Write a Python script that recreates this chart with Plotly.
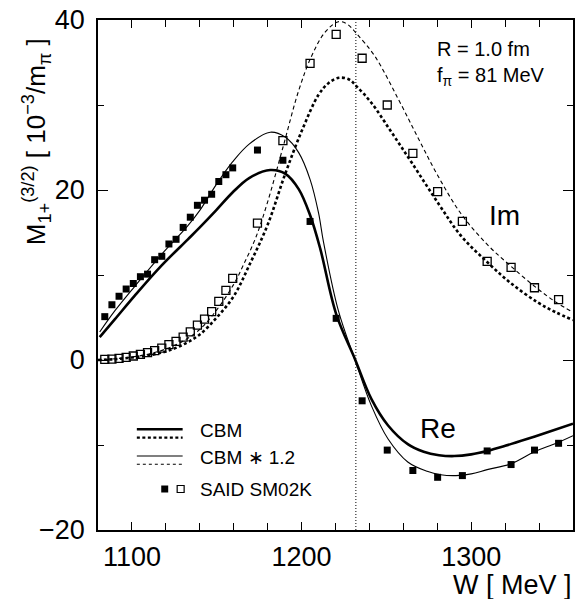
import plotly.graph_objects as go

# ---------------- data ----------------
said_w = [1084.0, 1088.2, 1092.4, 1096.6, 1100.8, 1105.0, 1109.2, 1113.4, 1117.6, 1121.8,
          1126.0, 1130.2, 1134.4, 1138.6, 1142.8, 1147.0, 1151.2, 1155.4, 1159.4, 1174.0,
          1189.0, 1205.0, 1220.4, 1235.7, 1250.5, 1265.6, 1280.2, 1294.8, 1309.4, 1323.5,
          1337.3, 1351.5]
said_re = [5.1, 6.5, 7.5, 8.35, 9.0, 9.8, 10.1, 11.8, 12.2, 13.65,
           14.2, 15.6, 16.8, 18.2, 18.8, 19.5, 21.0, 21.8, 22.6, 24.7,
           23.5, 16.3, 4.9, -4.8, -10.6, -13.0, -13.8, -13.6, -10.7, -12.3,
           -10.6, -9.8]
said_im = [0.08, 0.1, 0.2, 0.3, 0.47, 0.67, 0.86, 1.1, 1.4, 1.8,
           2.2, 2.7, 3.3, 4.1, 4.8, 5.7, 6.9, 8.2, 9.6, 16.1,
           25.8, 34.9, 38.3, 35.5, 30.0, 24.3, 19.8, 16.3, 11.6, 10.9,
           8.5, 7.1]

cbm_re_w = [1081, 1090, 1101.8, 1117.4, 1133, 1140, 1149.6, 1159.3, 1169.1, 1181.5,
            1190.5, 1198.3, 1205.1, 1211, 1220.4, 1231.5, 1241.2, 1251, 1262.6, 1272,
            1281, 1290, 1300, 1309.4, 1320, 1332.8, 1345, 1360]
cbm_re = [2.7, 4.8, 7.6, 11.1, 14.2, 15.6, 17.6, 19.7, 21.4, 22.35,
          21.9, 20.1, 17.0, 13.1, 5.4, 0.1, -4.6, -7.7, -9.9, -10.8,
          -11.2, -11.3, -11.1, -10.7, -10.1, -9.3, -8.5, -7.5]

cbm12_re_w = [1081, 1090, 1101.8, 1117.4, 1133, 1140, 1149.6, 1159.3, 1169.1, 1181.5,
              1190.5, 1198.3, 1205.1, 1210, 1213, 1221.7, 1231.5, 1241.2, 1251, 1262.6,
              1274, 1282, 1291, 1300, 1309.4, 1323.5, 1337.3, 1350, 1360]
cbm12_re = [3.3, 5.8, 8.7, 12.4, 15.8, 17.6, 20.6, 23.3, 25.4, 26.8,
            26.2, 24.4, 21.2, 17.3, 13.8, 5.8, 0.0, -5.4, -9.3, -12.0,
            -13.1, -13.5, -13.6, -13.4, -12.9, -12.2, -10.8, -9.8, -8.9]

cbm_im_w = [1080, 1090, 1100, 1110, 1120, 1130, 1140, 1150, 1160, 1170,
            1180, 1190, 1200, 1210, 1216, 1222, 1228, 1232.4, 1241, 1253,
            1265, 1281, 1294, 1309, 1323, 1339, 1350, 1360]
cbm_im = [0.0, 0.1, 0.3, 0.55, 1.0, 1.8, 3.0, 5.0, 7.5, 11.5,
          15.9, 21.7, 26.9, 31.2, 32.6, 33.2, 33.0, 32.2, 30.3, 26.8,
          23.2, 18.3, 14.6, 11.6, 9.1, 6.8, 5.6, 4.7]

cbm12_im_w = [1080, 1090, 1100, 1110, 1120, 1130, 1140, 1150, 1160, 1166,
              1173, 1180, 1189, 1198.3, 1206, 1214, 1221.7, 1227, 1232.4, 1243,
              1257, 1268.5, 1280, 1294, 1309.4, 1323, 1339, 1350, 1360]
cbm12_im = [0.0, 0.15, 0.35, 0.7, 1.3, 2.2, 3.6, 5.9, 8.9, 11.3,
            14.4, 18.6, 25.0, 31.7, 35.8, 38.6, 39.8, 39.5, 38.4, 35.8,
            30.7, 26.2, 21.8, 17.2, 13.6, 11.1, 8.4, 6.8, 5.6]

w_resonance = 1232.0
x_range = [1080, 1360]
y_range = [-20, 40]

# ---------------- style ----------------
FONT = "Liberation Sans"
W, H = 579, 599
ML, MR, MT, MB = 98, 4, 20, 69
PW, PH = W - ML - MR, H - MT - MB


def px2x(p):
    return (p - ML) / PW


def px2y(p):
    return (H - MB - p) / PH


fig = go.Figure()

fig.add_trace(go.Scatter(x=cbm_re_w, y=cbm_re, mode="lines", showlegend=False,
                         line=dict(color="black", width=2.6, shape="spline")))
fig.add_trace(go.Scatter(x=cbm12_re_w, y=cbm12_re, mode="lines", showlegend=False,
                         line=dict(color="black", width=1.1, shape="spline")))
fig.add_trace(go.Scatter(x=cbm_im_w, y=cbm_im, mode="lines", showlegend=False,
                         line=dict(color="black", width=2.6, shape="spline", dash="3px,2.5px")))
fig.add_trace(go.Scatter(x=cbm12_im_w, y=cbm12_im, mode="lines", showlegend=False,
                         line=dict(color="black", width=1.1, shape="spline", dash="4px,3px")))
fig.add_trace(go.Scatter(x=said_w, y=said_re, mode="markers", showlegend=False,
                         marker=dict(symbol="square", size=7, color="black")))
fig.add_trace(go.Scatter(x=said_w, y=said_im, mode="markers", showlegend=False,
                         marker=dict(symbol="square-open", size=8, color="black",
                                     line=dict(width=1.3, color="black"))))

shapes = [
    dict(type="line", xref="x", yref="paper", x0=w_resonance, x1=w_resonance, y0=0, y1=1,
         line=dict(color="black", width=1, dash="1px,2px")),
    # legend samples
    dict(type="line", xref="paper", yref="paper", x0=px2x(137), x1=px2x(183),
         y0=px2y(429.3), y1=px2y(429.3), line=dict(color="black", width=2.6)),
    dict(type="line", xref="paper", yref="paper", x0=px2x(137), x1=px2x(183),
         y0=px2y(437.7), y1=px2y(437.7), line=dict(color="black", width=2.2, dash="3px,2.5px")),
    dict(type="line", xref="paper", yref="paper", x0=px2x(137), x1=px2x(183),
         y0=px2y(456), y1=px2y(456), line=dict(color="black", width=1.1)),
    dict(type="line", xref="paper", yref="paper", x0=px2x(137), x1=px2x(183),
         y0=px2y(464.3), y1=px2y(464.3), line=dict(color="black", width=1.1, dash="3px,3px")),
    dict(type="rect", xref="paper", yref="paper", x0=px2x(161.5), x1=px2x(168.5),
         y0=px2y(492.5), y1=px2y(485.5), fillcolor="black", line=dict(width=0)),
    dict(type="rect", xref="paper", yref="paper", x0=px2x(177.5), x1=px2x(184.5),
         y0=px2y(492.5), y1=px2y(485.5), fillcolor="white", line=dict(color="black", width=1.2)),
]

def ann(text, xp, yp, size, xanchor="left", yanchor="middle", angle=0):
    return dict(text=text, xref="paper", yref="paper", x=px2x(xp), y=px2y(yp),
                xanchor=xanchor, yanchor=yanchor, showarrow=False, textangle=angle,
                font=dict(family=FONT, size=size, color="black"))

annotations = [
    ann("R = 1.0 fm", 436, 48.5, 20),
    ann("f<sub>π</sub> = 81 MeV", 436, 76, 20),
    ann("Im", 506, 215, 28, xanchor="center"),
    ann("Re", 439, 428, 28, xanchor="center"),
    ann("CBM", 198, 430, 19),
    ann("CBM ∗ 1.2", 198, 457, 19),
    ann("SAID SM02K", 198, 489, 19),
    ann("W [ MeV ]", 576, 585, 27, xanchor="right"),
    ann("M<sub>1+</sub><sup>(3/2)</sup> [ 10<sup>−3</sup>/m<sub>π</sub> ]", 36, 142, 26,
        xanchor="center", angle=-90),
]

axis_common = dict(ticks="inside", tickwidth=1.3, tickcolor="black", mirror="allticks",
                   showline=True, linecolor="black", linewidth=1.5, showgrid=False,
                   zeroline=False, tickfont=dict(family=FONT, size=27, color="black"))

fig.update_layout(
    width=W, height=H,
    margin=dict(l=ML, r=MR, t=MT, b=MB),
    paper_bgcolor="white", plot_bgcolor="white",
    showlegend=False,
    shapes=shapes, annotations=annotations,
    xaxis=dict(range=x_range, tick0=1100, dtick=100, ticklen=8,
               minor=dict(dtick=20, tick0=1080, ticks="inside", ticklen=7,
                          tickwidth=1.3, tickcolor="black", showgrid=False),
               ticklabelstandoff=2, **axis_common),
    yaxis=dict(range=y_range, tick0=0, dtick=20, ticklen=10,
               minor=dict(dtick=10, tick0=0, ticks="inside", ticklen=6,
                          tickwidth=1.3, tickcolor="black", showgrid=False),
               ticklabelstandoff=6, **axis_common),
)

fig.write_html("out.html")
